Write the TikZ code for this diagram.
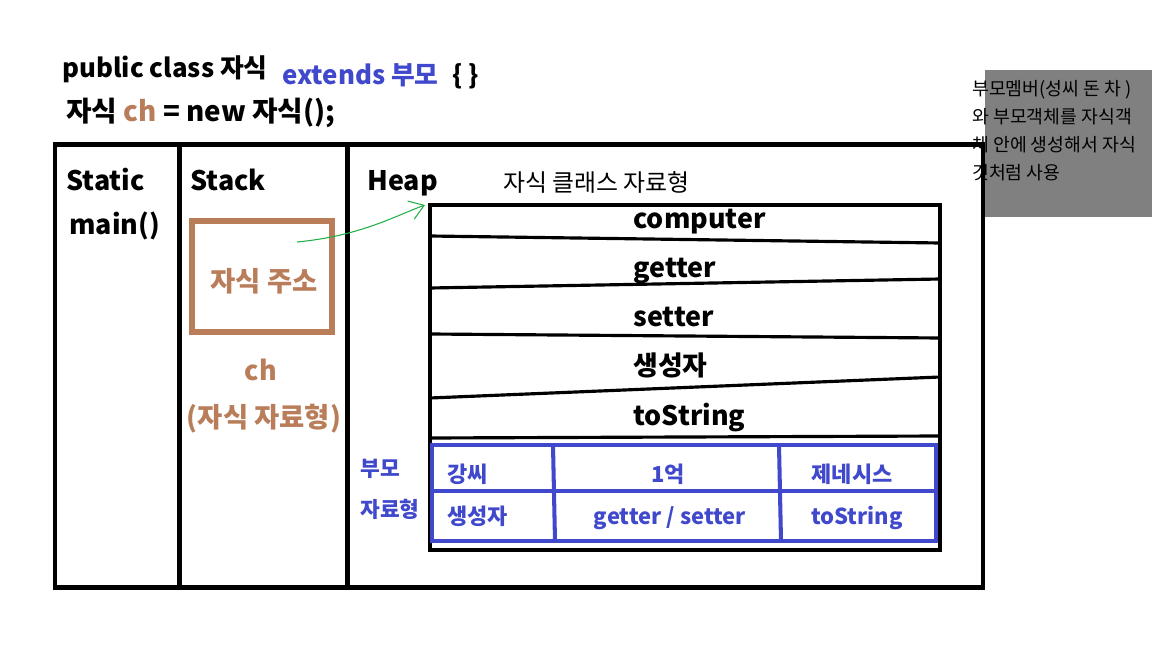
\documentclass[tikz,border=0pt]{standalone}
\usepackage{fontspec}
\setmainfont{Noto Sans CJK KR}
\usetikzlibrary{arrows.meta}
\definecolor{brownish}{RGB}{185,125,90}
\definecolor{blueish}{RGB}{64,72,204}
\definecolor{greenish}{RGB}{30,175,70}
\definecolor{grayish}{RGB}{128,128,128}

\begin{document}
\begin{tikzpicture}[x=0.02cm, y=-0.02cm,
  t/.style={inner sep=0pt, anchor=base west, font=\bfseries\fontsize{15.3}{18}\selectfont},
  tc/.style={t, anchor=base},
  note/.style={t, font=\fontsize{10.4}{12}\selectfont},
  cell/.style={tc, text=blueish, font=\bfseries\fontsize{12.5}{15}\selectfont},
  frame/.style={line width=2.8pt},
  row/.style={line width=1.8pt},
  bline/.style={line width=2.3pt, draw=blueish}]
 \useasboundingbox (0,0) rectangle (1152,648);

 % note box on the right
 \fill[grayish] (985,70) rectangle (1152,217);
 \node[note] (n1) at (972, 96) {부모멤버(성씨 돈 차 )};
 \node[note] (n2) at (972,124) {와 부모객체를 자식객};
 \node[note] (n3) at (972,152) {체 안에 생성해서 자식};
 \node[note] (n4) at (972,180) {것처럼 사용};

 % code lines
 \node[t, font=\bfseries\fontsize{14.7}{18}\selectfont] (cls) at (62, 78) {public class 자식};
 \node[t, font=\bfseries\fontsize{14.7}{18}\selectfont, text=blueish] (ext) at (282, 85) {extends 부모};
 \node[t, font=\bfseries\fontsize{14.7}{18}\selectfont] (brc) at (452, 85) {\{ \}};
 \node[t, font=\bfseries\fontsize{15.8}{18}\selectfont] (new) at (66,122)
   {자식 \textcolor{brownish}{ch} = new 자식();};

 % memory areas
 \draw[frame] (55,144.5) rectangle (983,587.5);
 \draw[frame] (179.5,144.5) -- (179.5,587.5);
 \draw[frame] (347.5,144.5) -- (347.5,587.5);

 \node[t] (static) at ( 66,191) {Static};
 \node[t] (main)   at ( 69,235) {main()};
 \node[t] (stack)  at (190,191) {Stack};
 \node[t] (heap)   at (367,191) {Heap};

 % stack variable
 \draw[draw=brownish, line width=3pt] (192,221) rectangle (332,332);
 \node[tc, text=brownish, font=\bfseries\fontsize{15.6}{18}\selectfont] (addr) at (264,292) {자식 주소};
 \node[tc, text=brownish] (ch)   at (261,380) {ch};
 \node[tc, text=brownish, font=\bfseries\fontsize{15.6}{18}\selectfont] (chty) at (264,427) {(자식 자료형)};

 % child object in heap
 \node[t, font=\fontsize{13.6}{15}\selectfont] (cname) at (503,192) {자식 클래스 자료형};
 \draw[row] (430,205) rectangle (940,550);
 \draw[row] (430,236) -- (940,243);
 \draw[row] (430,288) -- (940,279);
 \draw[row] (430,334) -- (940,338);
 \draw[row] (430,398) -- (940,377);
 \draw[row] (430,438) -- (940,436);
 \node[t] (m1) at (633,229) {computer};
 \node[t] (m2) at (633,278) {getter};
 \node[t] (m3) at (633,327) {setter};
 \node[t] (m4) at (633,375) {생성자};
 \node[t] (m5) at (633,425) {toString};

 % parent part
 \node[t, text=blueish, font=\fontsize{12.2}{15}\selectfont\bfseries] (par1) at (360,476) {부모};
 \node[t, text=blueish, font=\fontsize{12.2}{15}\selectfont\bfseries] (par2) at (360,517) {자료형};
 \draw[bline] (432,445) rectangle (936,541);
 \draw[bline] (432,491) -- (936,491);
 \draw[bline] (553,445) -- (555,541);
 \draw[bline] (779,445) -- (781,541);
 \node[cell, anchor=base west] (p1) at (447,482) {강씨};
 \node[cell] (p2) at (668,482) {1억};
 \node[cell] (p3) at (852,482) {제네시스};
 \node[cell, anchor=base west] (p4) at (447,524) {생성자};
 \node[cell] (p5) at (670,524) {getter / setter};
 \node[cell] (p6) at (857,524) {toString};

 % reference
 \coordinate (from) at (297,242);
 \coordinate (to)   at (425,205);
 \draw[greenish, line width=0.6pt, -{Straight Barb[length=8pt, width=11pt]}]
   (from) .. controls (360,236) and (395,216) .. (to);
\end{tikzpicture}
\end{document}
